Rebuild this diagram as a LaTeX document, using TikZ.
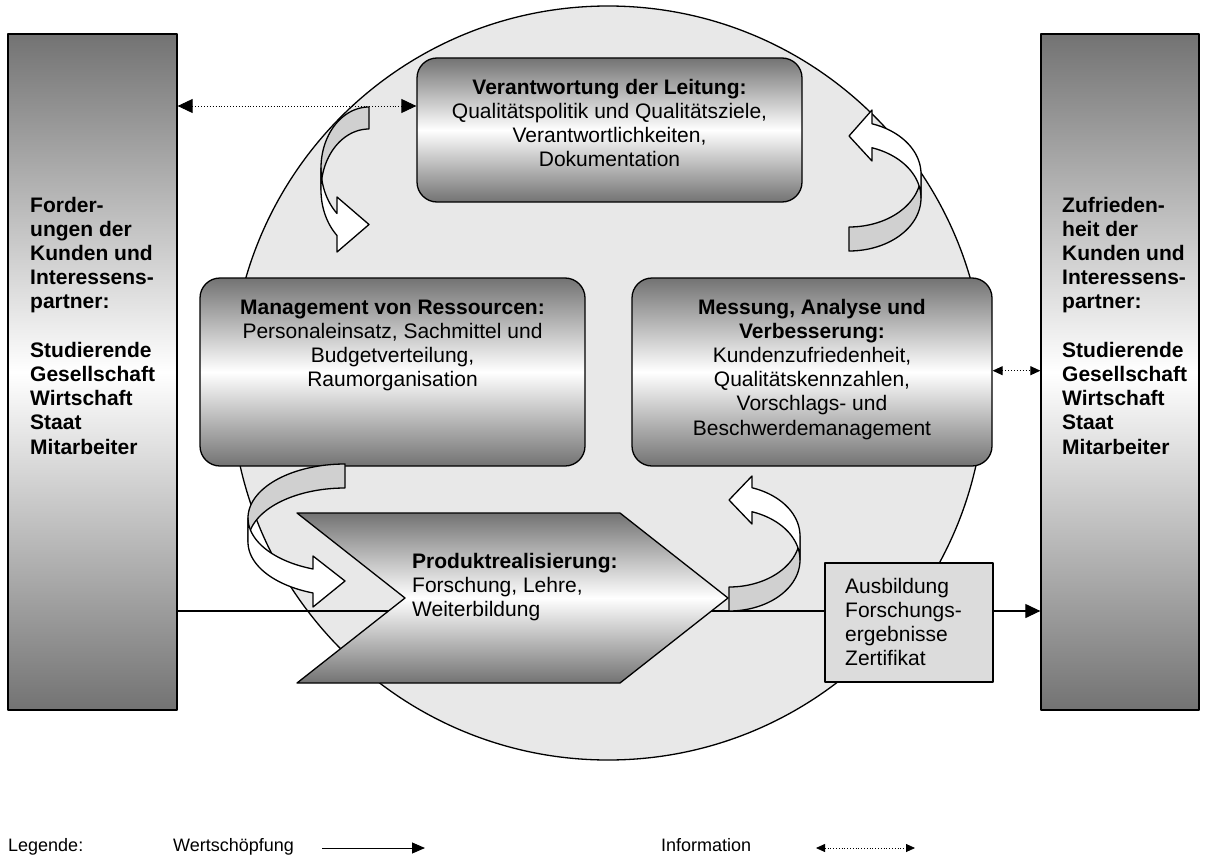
\documentclass[tikz,border=0pt]{standalone}
\usepackage{fontspec}
\setmainfont{Liberation Sans}
\usetikzlibrary{arrows.meta}
\newcommand\cblock[1]{\begin{tabular}[t]{@{}c@{}}#1\end{tabular}}
\newcommand\lblock[1]{\begin{tabular}[t]{@{}l@{}}#1\end{tabular}}
\definecolor{shadegray}{gray}{0.45}
\definecolor{discgray}{HTML}{E8E8E8}
\definecolor{bandgray}{HTML}{D0D0D0}
\definecolor{outgray}{HTML}{DCDCDC}

\begin{document}
\begin{tikzpicture}[x=1pt,y=-1pt,
  outline/.style={draw=black, line width=1.3pt, line join=round},
  grad/.style={outline, top color=shadegray, bottom color=shadegray, middle color=white},
  sidebox/.style={grad, rectangle, inner sep=0pt, minimum height=676pt},
  roundbox/.style={grad, rectangle, rounded corners=20pt, inner sep=0pt},
  body/.style={inner sep=0pt, font=\fontsize{21}{24.2}\selectfont},
  sidetext/.style={body, anchor=base west, font=\fontsize{21}{24.2}\selectfont\bfseries},
  legendtext/.style={inner sep=0pt, anchor=base west, font=\fontsize{18}{21}\selectfont},
  backband/.style={outline, fill=bandgray},
  frontband/.style={outline, fill=white},
  flow/.style={line width=1.2pt},
  info/.style={line width=0.9pt, dotted},
  bigtip/.style={-{Triangle[length=15pt,width=14pt]}},
  bigtips/.style={{Triangle[length=15pt,width=14pt]}-{Triangle[length=15pt,width=14pt]}},
  smalltips/.style={{Triangle[length=10pt,width=9pt]}-{Triangle[length=10pt,width=9pt]}}
]
\useasboundingbox[fill=white] (0,0) rectangle (1207,859);

% central disc
\node[outline, fill=discgray, circle, inner sep=0pt, minimum size=754pt] (disc) at (608,383) {};

% stakeholder columns
\node[sidebox, minimum width=169pt] (left) at (92.5,372) {};
\node[sidebox, minimum width=158pt] (right) at (1120,372) {};
\node[sidetext] (lefttext) at (30,212) {\lblock{Forder-\\ungen der\\Kunden und\\Interessens-\\partner:\\ \\Studierende\\Gesellschaft\\Wirtschaft\\Staat\\Mitarbeiter}};
\node[sidetext] (righttext) at (1062,212) {\lblock{Zufrieden-\\heit der\\Kunden und\\Interessens-\\partner:\\ \\Studierende\\Gesellschaft\\Wirtschaft\\Staat\\Mitarbeiter}};

% output box and value-creation line
\node[outline, fill=outgray, rectangle, inner sep=0pt, minimum width=168pt, minimum height=119pt] (out) at (909,622.5) {};
\draw[flow] (left.east |- 0,611) -- (out.west |- 0,611);
\draw[flow, bigtip] (out.east |- 0,611) -- (right.west |- 0,611);
\node[body, anchor=base west] (outtext) at (845,593) {\lblock{Ausbildung\\Forschungs-\\ergebnisse\\Zertifikat}};

% product realisation chevron
\coordinate (pA) at (297,513);
\coordinate (pB) at (620,513);
\coordinate (pC) at (728,598);
\coordinate (pD) at (620,683);
\coordinate (pE) at (297,683);
\coordinate (pF) at (405,598);
\shadedraw[outline, top color=shadegray, bottom color=shadegray, middle color=white]
  (pA) -- (pB) -- (pC) -- (pD) -- (pE) -- (pF) -- cycle;
\node[body, anchor=base west] (prodtext) at (412,568) {\lblock{\textbf{Produktrealisierung:}\\Forschung, Lehre,\\Weiterbildung}};

% process boxes
\node[roundbox, minimum width=385pt, minimum height=144pt] (lead) at (609.5,130) {};
\node[roundbox, minimum width=385pt, minimum height=188pt] (res) at (392.5,372) {};
\node[roundbox, minimum width=360pt, minimum height=188pt] (meas) at (812,372) {};
\node[body, anchor=base] (leadtext) at (609.5,94) {\cblock{\textbf{Verantwortung der Leitung:}\\Qualitätspolitik und Qualitätsziele,\\Verantwortlichkeiten,\\Dokumentation}};
\node[body, anchor=base] (restext) at (392.5,314) {\cblock{\textbf{Management von Ressourcen:}\\Personaleinsatz, Sachmittel und\\Budgetverteilung,\\Raumorganisation}};
\node[body, anchor=base] (meastext) at (812,314) {\cblock{\textbf{Messung, Analyse und}\\\textbf{Verbesserung:}\\Kundenzufriedenheit,\\Qualitätskennzahlen,\\Vorschlags- und\\Beschwerdemanagement}};

% information exchange
\draw[info, bigtips] (left.east |- 0,106) -- (lead.west |- 0,106);
\draw[info, smalltips] (meas.east |- 0,370.7) -- (right.west |- 0,370.7);

% curved cycle arrows: back band first, front band with head on top
% top left
\filldraw[backband] plot[domain=270:180,samples=40] ({369+48*cos(\x)},{168+61*sin(\x)})
  -- plot[domain=180:270,samples=40] ({369+48*cos(\x)},{190+61*sin(\x)}) -- cycle;
\filldraw[frontband] plot[domain=131.8:180,samples=40] ({369+48*cos(\x)},{190+61*sin(\x)})
  -- plot[domain=180:131.8,samples=40] ({369+48*cos(\x)},{168+61*sin(\x)})
  -- (337,197) -- (369,224.5) -- (337,252) -- cycle;
% top right
\filldraw[backband] plot[domain=90:0,samples=40] ({849+72*cos(\x)},{174+53*sin(\x)})
  -- plot[domain=0:90,samples=40] ({849+72*cos(\x)},{198+53*sin(\x)}) -- cycle;
\filldraw[frontband] plot[domain=-71.37:0,samples=40] ({849+72*cos(\x)},{174+53*sin(\x)})
  -- plot[domain=0:-71.37,samples=40] ({849+72*cos(\x)},{198+53*sin(\x)})
  -- (872,161) -- (849,136) -- (872,110) -- cycle;
% lower left
\filldraw[backband] plot[domain=270:180,samples=40] ({345+97*cos(\x)},{518+54*sin(\x)})
  -- plot[domain=180:270,samples=40] ({345+97*cos(\x)},{542+54*sin(\x)}) -- cycle;
\filldraw[frontband] plot[domain=109.26:180,samples=40] ({345+97*cos(\x)},{542+54*sin(\x)})
  -- plot[domain=180:109.26,samples=40] ({345+97*cos(\x)},{518+54*sin(\x)})
  -- (313,556) -- (345,581) -- (313,607) -- cycle;
% lower right
\filldraw[backband] plot[domain=90:0,samples=40] ({729+71*cos(\x)},{536+51*sin(\x)})
  -- plot[domain=0:90,samples=40] ({729+71*cos(\x)},{560+51*sin(\x)}) -- cycle;
\filldraw[frontband] plot[domain=-71.1:0,samples=40] ({729+71*cos(\x)},{536+51*sin(\x)})
  -- plot[domain=0:-71.1,samples=40] ({729+71*cos(\x)},{560+51*sin(\x)})
  -- (752,524) -- (729,500) -- (752,476) -- cycle;

% legend
\node[legendtext] (legend) at (8,851) {Legende:};
\node[legendtext] (legvalue) at (173,851) {Wertschöpfung};
\node[legendtext] (leginfo) at (661,851) {Information};
\coordinate (lv1) at (322,848);
\coordinate (lv2) at (425,848);
\coordinate (li1) at (816,848);
\coordinate (li2) at (915,848);
\draw[line width=1pt, -{Triangle[length=13pt,width=11pt]}] (lv1) -- (lv2);
\draw[line width=0.8pt, dotted, {Triangle[length=9pt,width=8pt]}-{Triangle[length=9pt,width=8pt]}] (li1) -- (li2);
\end{tikzpicture}
\end{document}
